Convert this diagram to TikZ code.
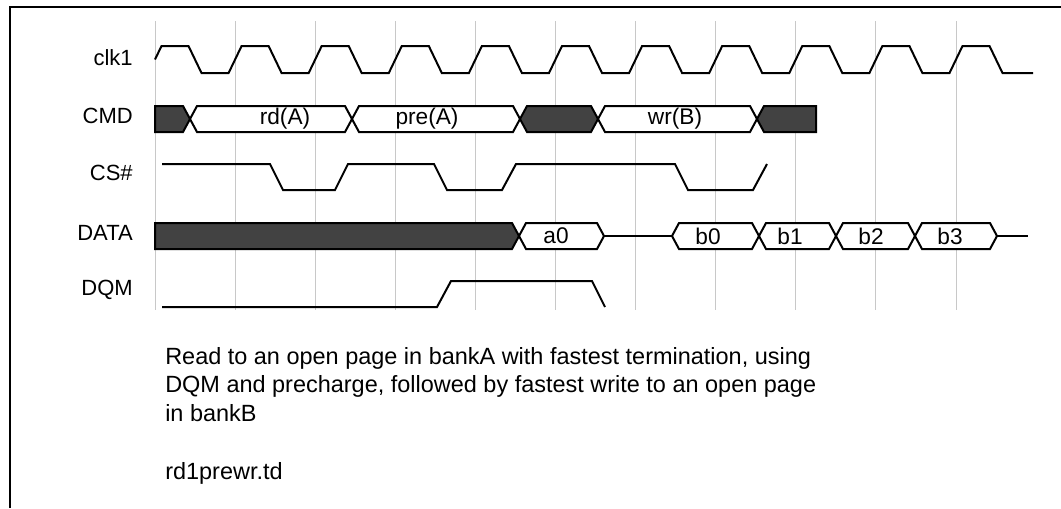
\documentclass[tikz,border=0pt]{standalone}
\usepackage{fontspec}
\setmainfont{Liberation Sans}
\usetikzlibrary{positioning}
\definecolor{busdark}{RGB}{66,66,66}
\definecolor{gridgray}{RGB}{200,200,200}

\begin{document}
\begin{tikzpicture}[
  x=0.75pt, y=-0.75pt,
  font=\fontsize{16.5}{21.5}\selectfont,
  sig/.style={anchor=east, inner sep=0pt},
  val/.style={inner sep=0pt, font=\fontsize{17}{20}\selectfont},
  wave/.style={black, line width=1.5pt, line join=miter},
  bus/.style={draw=black, fill=white, line width=1.5pt},
  busd/.style={draw=black, fill=busdark, line width=1.5pt},
  gridln/.style={gridgray, line width=0.75pt},
  frame/.style={black, line width=1.5pt},
  note/.style={anchor=north west, align=left, inner sep=0pt, font=\fontsize{17.6}{21.5}\selectfont},
]
\useasboundingbox (0,0) rectangle (1061,508);
\def\ck{80.1}% clock period, px

% ---------- frame and grid ----------
\draw[frame] (10,508) -- (10,7) -- (1061,7);
\foreach \k in {0,...,10}{
  \draw[gridln] ({155+\ck*\k},21) -- ({155+\ck*\k},310);
}

% ---------- signal names ----------
\node[sig] (lclk) at (133,58) {clk1};
\node[sig] (lcmd) at (133,116) {CMD};
\node[sig] (lcs)  at (133,173) {CS\#};
\node[sig] (ldat) at (133,233) {DATA};
\node[sig] (ldqm) at (133,290) {DQM};

% ---------- clk1 ----------
\draw[wave] (155,59.5) \foreach \k in {0,...,10}{
    -- ({155+\ck*\k+6.5},46) -- ({155+\ck*\k+33.5},46)
    -- ({155+\ck*\k+46.5},73) -- ({155+\ck*\k+73.6},73) } -- (1033,73);

% ---------- CMD ----------
\draw[busd] (155,106) -- (183,106) -- (190,119) -- (183,132) -- (155,132) -- cycle;
\foreach \a/\b/\s in {190/352/bus, 352/520/bus, 520/598/busd, 598/757/bus}{
  \draw[\s] (\a,119) -- (\a+7,106) -- (\b-7,106) -- (\b,119) -- (\b-7,132) -- (\a+7,132) -- cycle;
}
\draw[busd] (757,119) -- (764,106) -- (816,106) -- (816,132) -- (764,132) -- cycle;
\node[val] (crd)  at (285,119) {rd(A)};
\node[val] (cpre) at (427,119) {pre(A)};
\node[val] (cwr)  at (675,119) {wr(B)};

% ---------- CS# ----------
\draw[wave] (162,164) -- (270,164) -- (283,190) -- (335,190) -- (348,164)
  -- (434,164) -- (447,190) -- (502,190) -- (516,164) -- (675,164)
  -- (688,190) -- (753,190) -- (767,164);

% ---------- DATA ----------
\draw[busd] (155,223) -- (512,223) -- (519,236) -- (512,249) -- (155,249) -- cycle;
\foreach \a/\b in {519/604, 672/759, 759/836, 836/915, 915/997}{
  \draw[bus] (\a,236) -- (\a+7,223) -- (\b-7,223) -- (\b,236) -- (\b-7,249) -- (\a+7,249) -- cycle;
}
\draw[wave] (604,236) -- (672,236);
\draw[wave] (997,236) -- (1028,236);
\node[val] (da0) at (556,236) {a0};
\node[val] (db0) at (708,236) {b0};
\node[val] (db1) at (790,236) {b1};
\node[val] (db2) at (871,236) {b2};
\node[val] (db3) at (950,236) {b3};

% ---------- DQM ----------
\draw[wave] (162,307) -- (437,307) -- (451,281) -- (592,281) -- (605,307);

% ---------- caption ----------
\node[note] (cap) at (165,347) {Read to an open page in bankA with fastest termination, using\\
  DQM and precharge, followed by fastest write to an open page\\
  in bankB};
\node[note] (fname) at (165,461.8) {rd1prewr.td};
\end{tikzpicture}
\end{document}
